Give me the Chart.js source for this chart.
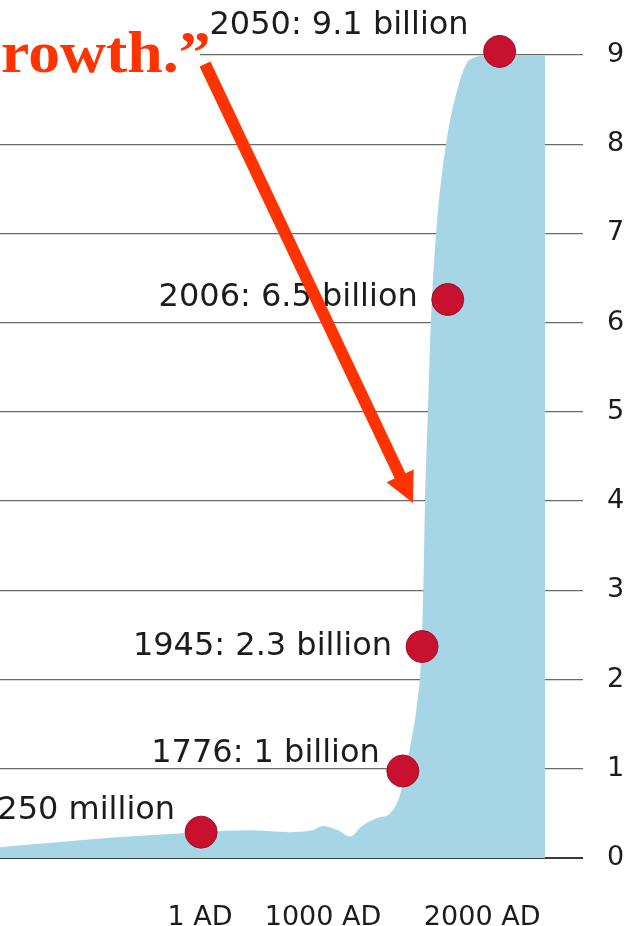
<!DOCTYPE html>
<html>
<head>
<meta charset="utf-8">
<script src="https://cdn.jsdelivr.net/npm/chart.js@4.4.0/dist/chart.umd.min.js"></script>
<style>
    html, body { margin: 0; padding: 0; background: #fff; }
    #wrap { width: 634px; height: 926px; position: relative; }
</style>
</head>
<body>
<div id="wrap"><canvas id="world-population"></canvas></div>
<script>
// World population (billions) along an illustrative timeline (0-100, not to scale)
const curvePos = [0, 5.1, 13.7, 24, 34.3, 42.9, 49.7, 53.5, 55.4, 58, 60, 62.1, 64.8, 66.9, 68.3, 69.5, 70.5, 71.5, 72.2, 72.6, 72.9, 73.4, 73.9, 74.8, 76.5, 78.4, 80.6, 84.9, 93.5];
const curvePop = [0.12, 0.15, 0.2, 0.25, 0.29, 0.31, 0.29, 0.31, 0.36, 0.31, 0.24, 0.36, 0.45, 0.5, 0.65, 0.95, 1.3, 1.7, 2.2, 3, 4, 5, 6, 7, 8, 8.6, 8.95, 9.0, 9.0];

// highlighted milestones
const markerPos = [34.5, 69.1, 72.4, 76.8, 85.7];
const markerPop = [0.29, 0.975, 2.37, 6.26, 9.04];
const markerLabels = ['250 million', '1776: 1 billion', '1945: 2.3 billion', '2006: 6.5 billion', '2050: 9.1 billion'];

const xTickPos = [34.3, 55.4, 82.7];
const xTickLabels = ['1 AD', '1000 AD', '2000 AD'];
const yTicks = [0, 1, 2, 3, 4, 5, 6, 7, 8, 9];

// label offsets from each dot (px), right aligned
const labelOffsets = [[-26, -21], [-23, -17], [-30, 0], [-30, -2], [-31, -26]];

const annotations = {
    id: 'annotations',
    afterDatasetsDraw(chart) {
        const ctx = chart.ctx;
        const pts = chart.getDatasetMeta(0).data;
        ctx.save();
        ctx.font = '32px "DejaVu Sans"';
        ctx.fillStyle = '#1c1c1c';
        ctx.textAlign = 'right';
        ctx.textBaseline = 'middle';
        pts.forEach((p, i) => {
            ctx.fillText(markerLabels[i], p.x + labelOffsets[i][0], p.y + labelOffsets[i][1]);
        });

        // quote fragment and arrow from the slide
        ctx.fillStyle = '#fff';
        ctx.fillRect(0, 20, 200, 60);
        ctx.fillStyle = '#ff3300';
        ctx.textAlign = 'left';
        ctx.textBaseline = 'alphabetic';
        ctx.font = 'bold 59px "Liberation Serif"';
        ctx.save();
        ctx.scale(1.08, 1);
        ctx.fillText('rowth.\u201D', 1, 72);
        ctx.restore();

        const sx = 205, sy = 64, tx = 413, ty = 503;
        const len = Math.hypot(tx - sx, ty - sy);
        const ux = (tx - sx) / len, uy = (ty - sy) / len;
        const nx = -uy, ny = ux;
        const headLen = 30, headW = 15;
        const bx = tx - ux * headLen, by = ty - uy * headLen;
        ctx.strokeStyle = '#ff3300';
        ctx.lineWidth = 12;
        ctx.beginPath();
        ctx.moveTo(sx, sy);
        ctx.lineTo(bx + ux * 2, by + uy * 2);
        ctx.stroke();
        ctx.beginPath();
        ctx.moveTo(tx, ty);
        ctx.lineTo(bx + nx * headW, by + ny * headW);
        ctx.lineTo(bx - nx * headW, by - ny * headW);
        ctx.closePath();
        ctx.fill();
        ctx.restore();
    }
};

const config = {
    type: 'line',
    data: {
        datasets: [{
            label: 'Milestones',
            data: markerPos.map((x, i) => ({ x: x, y: markerPop[i] })),
            showLine: false,
            pointRadius: 16,
            pointBackgroundColor: '#c8112f',
            pointBorderColor: '#a30d28',
            pointBorderWidth: 1,
            clip: false,
            order: 0
        }, {
            label: 'World population',
            data: curvePos.map((x, i) => ({ x: x, y: curvePop[i] })),
            fill: 'origin',
            backgroundColor: 'rgb(166, 214, 230)',
            borderWidth: 0,
            pointRadius: 0,
            cubicInterpolationMode: 'monotone',
            order: 1
        }]
    },
    options: {
        responsive: true,
        maintainAspectRatio: false,
        animation: false,
        layout: { autoPadding: false, padding: { top: 55, left: 0, right: 0, bottom: 0 } },
        plugins: {
            legend: { display: false },
            tooltip: { enabled: false }
        },
        scales: {
            x: {
                type: 'linear',
                min: 0,
                max: 100,
                position: 'bottom',
                afterBuildTicks: axis => { axis.ticks = xTickPos.map(v => ({ value: v })); },
                afterFit: axis => { axis.height = 68; },
                grid: { display: false },
                border: { display: false },
                ticks: {
                    autoSkip: false,
                    maxRotation: 0,
                    padding: 36,
                    color: '#1c1c1c',
                    font: { family: 'DejaVu Sans', size: 27 },
                    callback: (v, i) => xTickLabels[i]
                }
            },
            y: {
                position: 'right',
                min: 0,
                max: 9,
                afterBuildTicks: axis => { axis.ticks = yTicks.map(v => ({ value: v })); },
                afterFit: axis => { axis.width = 51; },
                border: { display: false },
                grid: {
                    drawTicks: false,
                    color: ctx => ctx.tick.value === 0 ? '#3a3a3a' : '#6a6a6a',
                    lineWidth: ctx => ctx.tick.value === 0 ? 2 : 1.3
                },
                ticks: {
                    padding: 24,
                    color: '#1c1c1c',
                    font: { family: 'DejaVu Sans', size: 27 }
                }
            }
        }
    },
    plugins: [annotations]
};

const populationChart = new Chart(
    document.getElementById('world-population'),
    config
);
</script>
</body>
</html>
